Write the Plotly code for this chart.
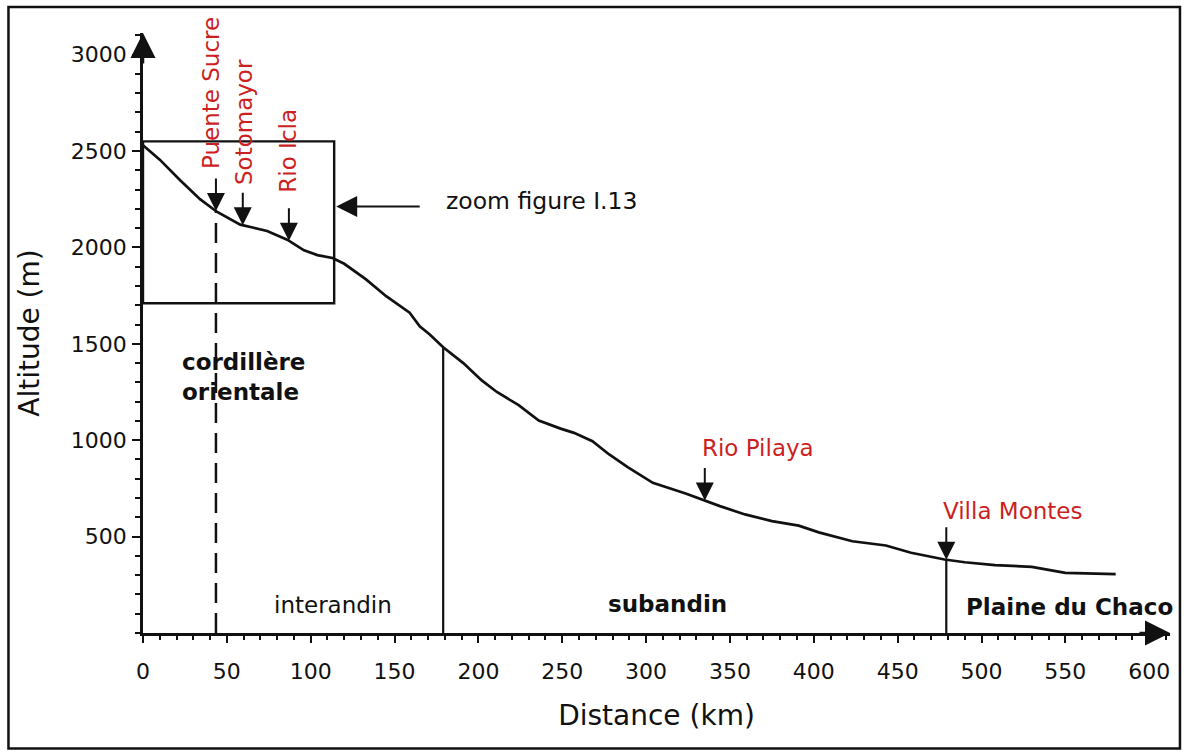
import numpy as np
import plotly.graph_objects as go

# ---------------- data ----------------
distance_km = [0, 10, 22, 34, 44, 58, 66, 74, 86, 96, 104, 113, 120, 133, 145,
               159, 165, 171, 179, 191, 202, 211, 224, 236, 249, 257, 268, 278,
               289, 304, 324, 336, 344, 359, 375, 391, 403, 423, 443, 458, 468,
               478, 490, 508, 530, 550, 580]
altitude_m = [2530, 2455, 2350, 2250, 2185, 2118, 2102, 2085, 2040, 1985, 1960,
              1945, 1915, 1834, 1747, 1661, 1591, 1548, 1482, 1400, 1310, 1250,
              1182, 1102, 1060, 1038, 995, 926, 860, 779, 722, 684, 658, 615,
              580, 557, 522, 476, 454, 416, 398, 381, 367, 352, 343, 312, 305]

stations = ["Puente Sucre", "Sotomayor", "Rio Icla", "Rio Pilaya", "Villa Montes"]
station_km = [43.5, 59.5, 87, 335, 479]

boundary_km = [179, 479]          # interandin | subandin | Plaine du Chaco
dashed_km = 43.5                  # dashed line (Puente Sucre)

zoom_box_km = [0, 114]
zoom_box_alt = [1710, 2550]

region_names = ["<b>cordillère<br>orientale</b>", "interandin", "<b>subandin</b>",
                "<b>Plaine du Chaco</b>"]

x_ticks = [0, 50, 100, 150, 200, 250, 300, 350, 400, 450, 500, 550, 600]
y_ticks = [500, 1000, 1500, 2000, 2500, 3000]

X_MAX = 612.4
Y_MAX = 3112

RED = "#cc1f1f"
INK = "#111111"
FONT = "DejaVu Sans"

def alt_at(km):
    return float(np.interp(km, distance_km, altitude_m))

fig = go.Figure()

# profile
fig.add_trace(go.Scatter(x=distance_km, y=altitude_m, mode="lines",
                         line=dict(color=INK, width=2.7), hoverinfo="skip",
                         showlegend=False))

# boundary verticals
for b in boundary_km:
    fig.add_trace(go.Scatter(x=[b, b], y=[0, alt_at(b)], mode="lines",
                             line=dict(color=INK, width=2.2), showlegend=False,
                             hoverinfo="skip"))
# dashed vertical
fig.add_trace(go.Scatter(x=[dashed_km, dashed_km], y=[0, alt_at(dashed_km)],
                         mode="lines",
                         line=dict(color=INK, width=2.5, dash="20px,10px"),
                         showlegend=False, hoverinfo="skip"))

# zoom box
fig.add_trace(go.Scatter(
    x=[zoom_box_km[0], zoom_box_km[1], zoom_box_km[1], zoom_box_km[0], zoom_box_km[0]],
    y=[zoom_box_alt[0], zoom_box_alt[0], zoom_box_alt[1], zoom_box_alt[1], zoom_box_alt[0]],
    mode="lines", line=dict(color=INK, width=2.4), showlegend=False, hoverinfo="skip"))

ann = []
# axis arrowheads
ann.append(dict(x=0, y=Y_MAX, xref="x", yref="y", ax=0, ay=32, text="",
                showarrow=True, arrowhead=2, arrowwidth=2.5, arrowsize=2.0,
                arrowcolor=INK, standoff=0))
ann.append(dict(x=X_MAX, y=0, xref="x", yref="y", ax=-32, ay=0, text="",
                showarrow=True, arrowhead=2, arrowwidth=2.5, arrowsize=2.0,
                arrowcolor=INK, standoff=0))

# station arrows + labels
label_cfg = {
    "Puente Sucre": dict(textangle=-90, xanchor="center", yanchor="bottom", xshift=-5, yshift=40),
    "Sotomayor":    dict(textangle=-90, xanchor="center", yanchor="bottom", xshift=1, yshift=38),
    "Rio Icla":     dict(textangle=-90, xanchor="center", yanchor="bottom", xshift=-1, yshift=46),
    "Rio Pilaya":   dict(textangle=0, xanchor="left", yanchor="middle", xshift=-5, yshift=53),
    "Villa Montes": dict(textangle=0, xanchor="left", yanchor="middle", xshift=-5, yshift=49),
}
for name, km in zip(stations, station_km):
    a = alt_at(km)
    ann.append(dict(x=km, y=a, xref="x", yref="y", ax=0, ay=-34, text="",
                    showarrow=True, arrowhead=2, arrowwidth=2, arrowsize=1.8,
                    arrowcolor=INK, standoff=0))
    cfg = label_cfg[name]
    ann.append(dict(x=km, y=a, xref="x", yref="y", text=name, showarrow=False,
                    font=dict(family=FONT, size=23, color=RED), **cfg))

# zoom figure arrow + text
ann.append(dict(x=zoom_box_km[1], y=2212, xref="x", yref="y", ax=87, ay=0, text="",
                showarrow=True, arrowhead=2, arrowwidth=2, arrowsize=2.1,
                arrowcolor=INK, standoff=2))
ann.append(dict(x=zoom_box_km[1], y=2212, xref="x", yref="y", text="zoom figure I.13",
                showarrow=False, xanchor="left", yanchor="middle", xshift=110, yshift=6,
                font=dict(family=FONT, size=23.5, color=INK)))

# region labels
region_pos = [(22, 1330, "left"), (113, 143, "center"), (312.5, 148, "center"),
              (552.5, 137, "center")]
for txt, (xk, ya, anc) in zip(region_names, region_pos):
    ann.append(dict(x=xk, y=ya, xref="x", yref="y", text=txt, showarrow=False,
                    xanchor=anc, yanchor="middle", align="left",
                    font=dict(family=FONT, size=23, color=INK)))

fig.update_layout(
    width=1187, height=754,
    margin=dict(l=143, r=17, t=33, b=121, autoexpand=False),
    paper_bgcolor="white", plot_bgcolor="white",
    showlegend=False,
    annotations=ann,
    shapes=[dict(type="rect", xref="paper", yref="paper",
                 x0=-0.131, x1=1.0097, y0=-0.1925, y1=1.0433,
                 line=dict(color=INK, width=2.5), layer="above")],
)

fig.update_xaxes(
    range=[0, X_MAX], showgrid=False, zeroline=False,
    showline=True, linecolor=INK, linewidth=2.5,
    tickmode="array", tickvals=x_ticks, ticktext=[str(v) for v in x_ticks],
    ticks="outside", ticklen=7, tickwidth=2, tickcolor=INK,
    minor=dict(dtick=10, tick0=0, ticks="outside", ticklen=4, tickwidth=1.5, tickcolor=INK),
    tickfont=dict(family=FONT, size=22, color=INK), ticklabelstandoff=10,
    title=dict(text="Distance (km)", font=dict(family=FONT, size=28, color=INK), standoff=23),
    automargin=False,
)
fig.update_yaxes(
    range=[0, Y_MAX], showgrid=False, zeroline=False,
    showline=True, linecolor=INK, linewidth=2.5,
    tickmode="array", tickvals=y_ticks, ticktext=[str(v) for v in y_ticks],
    ticks="outside", ticklen=8, tickwidth=2, tickcolor=INK,
    minor=dict(dtick=100, tick0=0, ticks="outside", ticklen=5, tickwidth=1.5, tickcolor=INK),
    tickfont=dict(family=FONT, size=22, color=INK), ticklabelstandoff=1,
    title=dict(text="Altitude (m)", font=dict(family=FONT, size=28, color=INK), standoff=24),
    automargin=False,
)

fig.write_html("out.html", config={"displayModeBar": False},
               post_script="document.body.style.margin='0px';")
